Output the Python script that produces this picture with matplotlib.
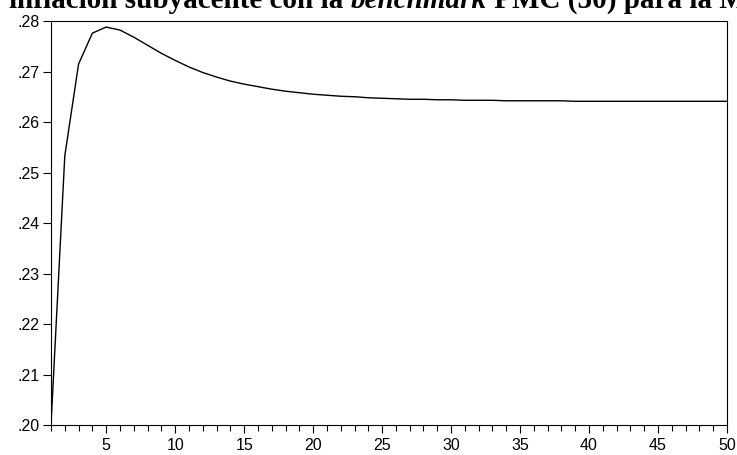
import numpy as np
import matplotlib
matplotlib.use('Agg')
import matplotlib.pyplot as plt
from matplotlib.ticker import MultipleLocator, FuncFormatter

# periodos y respuesta
periods = np.arange(1, 51)
response = [0.2000, 0.2533, 0.2715, 0.2776, 0.2788, 0.2782, 0.2768, 0.2752, 0.2736, 0.2722,
            0.2709, 0.2698, 0.2689, 0.2681, 0.2675, 0.2670, 0.2665, 0.2661, 0.2658, 0.2655,
            0.2653, 0.2651, 0.2650, 0.2648, 0.2647, 0.2646, 0.2645, 0.2645, 0.2644, 0.2644,
            0.2643, 0.2643, 0.2643, 0.2642, 0.2642, 0.2642, 0.2642, 0.2642, 0.2641, 0.2641,
            0.2641, 0.2641, 0.2641, 0.2641, 0.2641, 0.2641, 0.2641, 0.2641, 0.2641, 0.2641]

title_parts = [("inflación subyacente con la ", "normal"),
               ("benchmark", "italic"),
               (" PMC (50) para la M", "normal")]

plt.rcParams['font.family'] = ['Liberation Sans', 'DejaVu Sans']

fig = plt.figure(figsize=(7.37, 4.55), dpi=100)
ax = fig.add_axes([51/737, 1 - 425/455, (727-51)/737, (425-21)/455])

ax.plot(periods, response, color='black', lw=1.0)
ax.set_xlim(1, 50)
ax.set_ylim(0.20, 0.28)

ax.xaxis.set_major_locator(MultipleLocator(5))
ax.xaxis.set_minor_locator(MultipleLocator(1))
ax.yaxis.set_major_locator(MultipleLocator(0.01))
ax.yaxis.set_major_formatter(FuncFormatter(lambda v, p: ('%.2f' % v)[1:]))
ax.tick_params(axis='x', which='major', length=6, width=0.8, labelsize=11.5, pad=3, direction='out')
ax.tick_params(axis='x', which='minor', length=4, width=0.8, direction='out')
ax.tick_params(axis='y', length=6, width=0.8, labelsize=11.5, pad=2, direction='out')
for s in ax.spines.values():
    s.set_linewidth(0.8)

# titulo cortado arriba, con parte en cursiva
renderer = fig.canvas.get_renderer()
x = 9
for txt, style in title_parts:
    t = fig.text(x / 737, 1 - 8/455, txt, fontsize=21, fontweight='bold', style=style,
                 family=['Liberation Serif', 'DejaVu Serif'], va='baseline', ha='left')
    bb = t.get_window_extent(renderer)
    x = bb.x1

fig.savefig('out.png', dpi=100)
